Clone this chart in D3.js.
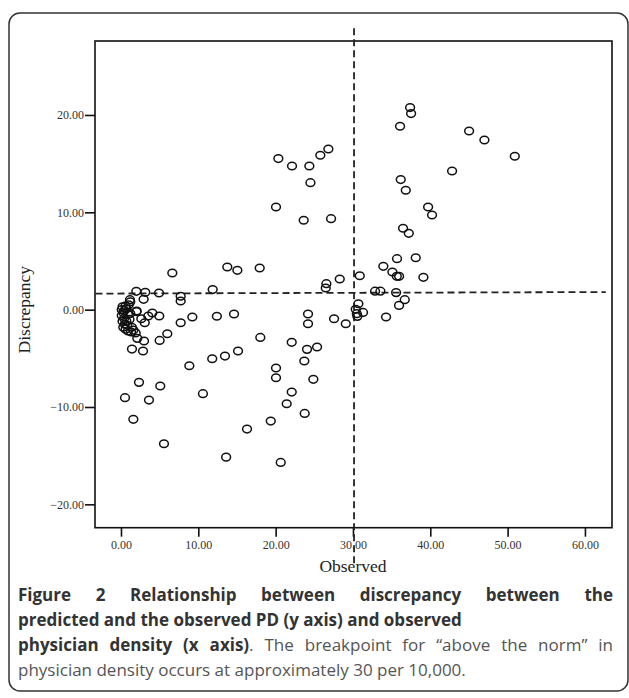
<!DOCTYPE html>
<html>
<head>
<meta charset="utf-8">
<script src="https://cdn.jsdelivr.net/npm/d3@7/dist/d3.min.js"></script>
<style>
  html, body { margin: 0; padding: 0; background: #fff; }
  svg { display: block; }
</style>
</head>
<body>
<svg id="chart" width="629" height="698"></svg>
<script>
// Observed physician density (x) and discrepancy (y)
const observed = [
  6.64, 1.98, 3.14, 2.93, 4.92, 7.72, 7.72, 11.86, 1.16, 2.03, 2.63, 3.07, 3.53, 4.05, 4.95, 9.23, 12.4, 7.72,
  5.99, 5.0, 2.11, 2.98, 1.42, 2.85, 8.84, 11.8, 2.33, 5.08, 10.6, 0.52, 3.62, 1.6, 5.56, 13.6, 16.3,
  0.2, 0.1, 0.3, 0.1, 0.4, 0.2, 0.5, 0.3, 0.6, 0.9, 1.3, 1.6, 0.8, 1.1, 0.9, 0.7, 1.0, 1.2, 0.6, 1.4, 0.4, 1.2, 0.7, 2.0, 1.9,
  20.35, 22.12, 24.36, 25.78, 26.82, 24.5, 20.05, 23.63, 27.17, 13.75, 15.05, 17.94, 28.29, 26.56, 26.48,
  14.62, 24.19, 27.56, 24.19, 29.07, 18.02, 22.08, 24.06, 25.36, 23.71, 15.14, 13.45, 20.05, 20.05, 24.88,
  22.08, 21.43, 23.76, 19.37, 20.66,
  30.88, 30.7, 30.36, 31.3, 30.5, 30.57,
  32.86, 33.55, 37.39, 37.52, 36.09, 45.02, 47.0, 50.93, 42.82, 36.18, 36.83, 39.72, 40.23, 36.48, 37.22,
  38.12, 35.7, 33.93, 35.1, 35.67, 35.97, 39.11, 35.58, 36.7, 35.96, 34.28
];
const discrepancy = [
  3.76, 1.88, 1.78, 1.06, 1.71, 1.37, 0.89, 2.06, 1.03, -0.14, -0.93, -1.34, -0.65, -0.34, -0.65, -0.75, -0.68, -1.34,
  -2.47, -3.16, -2.95, -3.22, -4.05, -4.25, -5.76, -5.04, -7.47, -7.85, -8.63, -9.04, -9.29, -11.27, -13.77, -15.15, -12.27,
  0.3, 0.0, -0.3, -0.6, -0.9, -1.2, -1.5, -1.8, -2.0, -2.2, -2.3, -2.1, -1.6, -1.0, -0.5, 0.1, 0.5, 0.8, 0.4, -1.8, -0.1, -0.4, -1.2, -0.2, -2.4,
  15.52, 14.76, 14.76, 15.86, 16.5, 13.05, 10.55, 9.18, 9.35, 4.38, 4.04, 4.28, 3.15, 2.67, 2.22,
  -0.45, -0.45, -0.93, -1.44, -1.44, -2.85, -3.36, -4.08, -3.84, -5.28, -4.25, -4.77, -6.0, -6.99, -7.16,
  -8.47, -9.66, -10.66, -11.45, -15.69,
  3.49, 0.61, 0.03, -0.28, -0.41, -0.69,
  1.9, 1.9, 20.76, 20.14, 18.84, 18.36, 17.43, 15.76, 14.25, 13.36, 12.26, 10.55, 9.73, 8.36, 7.84,
  5.34, 5.24, 4.45, 3.87, 3.42, 3.42, 3.32, 1.75, 1.03, 0.44, -0.76
];
const xTicks = [0, 10, 20, 30, 40, 50, 60];
const yTicks = [-20, -10, 0, 10, 20];
const xTitle = "Observed";
const yTitle = "Discrepancy";
// reference lines (data units)
const breakpointX = 30.14;
const breakpointYRange = [28.9, -26.3];
const normLine = [[-3.3, 1.65], [62.7, 1.81]];

const captionLines = [
  { justify: true, segs: [{ t: "Figure 2 Relationship between discrepancy between the", b: true }] },
  { justify: false, segs: [{ t: "predicted and the observed PD (y axis) and observed", b: true }] },
  { justify: true, segs: [{ t: "physician density (x axis)", b: true }, { t: ". The breakpoint for \u201Cabove the norm\u201D in", b: false }] },
  { justify: false, segs: [{ t: "physician density occurs at approximately 30 per 10,000.", b: false }] }
];

const svg = d3.select("#chart");

// outer frame
svg.append("rect")
  .attr("x", 9).attr("y", 13).attr("width", 619).attr("height", 678)
  .attr("rx", 11).attr("ry", 11)
  .attr("fill", "none").attr("stroke", "#333").attr("stroke-width", 1.5);

const box = { left: 95, right: 612, top: 41, bottom: 527.7 };
const x = d3.scaleLinear().domain([-3.36, 63.5]).range([box.left, box.right]);
const y = d3.scaleLinear().domain([-22.4, 27.6]).range([box.bottom, box.top]);

// axes
const xAxis = d3.axisBottom(x).tickValues(xTicks).tickFormat(d3.format(".2f")).tickSize(9).tickPadding(4);
const yAxis = d3.axisLeft(y).tickValues(yTicks).tickFormat(d3.format(".2f")).tickSize(10).tickPadding(1);

const gx = svg.append("g").attr("transform", `translate(0,${box.bottom})`).call(xAxis);
const gy = svg.append("g").attr("transform", `translate(${box.left},0)`).call(yAxis);
[gx, gy].forEach(g => {
  g.select(".domain").remove();
  g.selectAll(".tick line").attr("stroke", "#111").attr("stroke-width", 1.6);
  g.selectAll(".tick text")
    .attr("fill", "#333")
    .style("font-family", "'Liberation Serif', 'DejaVu Serif', serif")
    .style("font-size", "12px");
});

// plot frame
svg.append("rect")
  .attr("x", box.left).attr("y", box.top)
  .attr("width", box.right - box.left).attr("height", box.bottom - box.top)
  .attr("fill", "none").attr("stroke", "#111").attr("stroke-width", 1.6);

// reference lines
svg.append("line")
  .attr("x1", x(breakpointX)).attr("x2", x(breakpointX))
  .attr("y1", y(breakpointYRange[0])).attr("y2", y(breakpointYRange[1]))
  .attr("stroke", "#222").attr("stroke-width", 1.8).attr("stroke-dasharray", "7,4");
svg.append("line")
  .attr("x1", x(normLine[0][0])).attr("y1", y(normLine[0][1]))
  .attr("x2", x(normLine[1][0])).attr("y2", y(normLine[1][1]))
  .attr("stroke", "#222").attr("stroke-width", 1.8).attr("stroke-dasharray", "7,4");

// points
const pts = observed.map((v, i) => ({ x: v, y: discrepancy[i] }));
svg.append("g").selectAll("ellipse").data(pts).join("ellipse")
  .attr("cx", d => x(d.x)).attr("cy", d => y(d.y))
  .attr("rx", 4.4).attr("ry", 3.8)
  .attr("fill", "none").attr("stroke", "#111").attr("stroke-width", 1.5);

// axis titles
svg.append("text")
  .attr("x", x(30)).attr("y", 572)
  .attr("text-anchor", "middle")
  .attr("fill", "#222")
  .style("font-family", "'Liberation Serif', 'DejaVu Serif', serif")
  .style("font-size", "17.5px")
  .text(xTitle);
svg.append("text")
  .attr("transform", `translate(30,${y(0)}) rotate(-90)`)
  .attr("text-anchor", "middle")
  .attr("fill", "#222")
  .style("font-family", "'Liberation Serif', 'DejaVu Serif', serif")
  .style("font-size", "17.5px")
  .text(yTitle);

// caption with justification
const capLeft = 18, capRight = 613, capFont = 17, capTop = 601, capLead = 25;
const capG = svg.append("g").style("font-family", "'Open Sans', 'Noto Sans', sans-serif").style("font-size", capFont + "px");

function splitWords(segs) {
  const words = [];
  let cur = [];
  segs.forEach(s => {
    const parts = s.t.split(" ");
    parts.forEach((p, k) => {
      if (k > 0) { if (cur.length) words.push(cur); cur = []; }
      if (p.length) cur.push({ t: p, b: s.b });
    });
  });
  if (cur.length) words.push(cur);
  return words;
}
function drawWord(word, xx, yy) {
  const t = capG.append("text").attr("x", xx).attr("y", yy);
  word.forEach(s => {
    t.append("tspan")
      .attr("font-weight", s.b ? "bold" : "normal")
      .attr("fill", s.b ? "#333" : "#555")
      .text(s.t);
  });
  return t;
}
// space width
const sp = capG.append("text").text("a a");
const sp2 = capG.append("text").text("aa");
const spaceW = sp.node().getComputedTextLength() - sp2.node().getComputedTextLength();
sp.remove(); sp2.remove();

captionLines.forEach((line, li) => {
  const yy = capTop + li * capLead;
  const words = splitWords(line.segs);
  const nodes = words.map(w => drawWord(w, 0, yy));
  const widths = nodes.map(n => n.node().getComputedTextLength());
  const total = d3.sum(widths);
  const gap = line.justify && words.length > 1 ? (capRight - capLeft - total) / (words.length - 1) : spaceW;
  let cx = capLeft;
  nodes.forEach((n, i) => { n.attr("x", cx); cx += widths[i] + gap; });
});
</script>
</body>
</html>
